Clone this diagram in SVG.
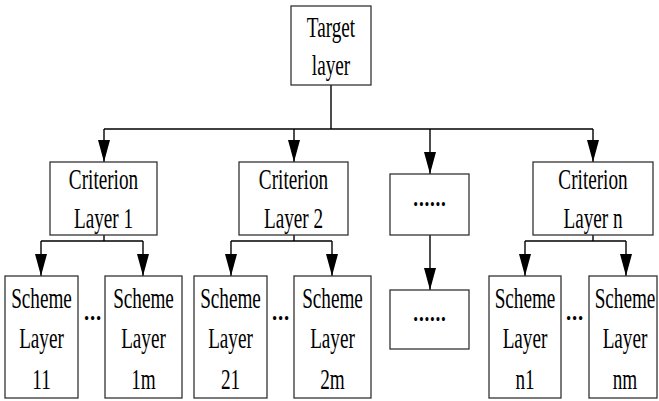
<svg xmlns="http://www.w3.org/2000/svg" width="659" height="401" viewBox="0 0 659 401">
<style>
.box{fill:#fff;stroke:#333;stroke-width:1.3}
.ln{fill:none;stroke:#000;stroke-width:1.4}
text{font-family:"Liberation Serif","Times New Roman",serif;font-size:30px;fill:#000;text-anchor:middle}
.dot{font-size:26px;font-weight:bold;letter-spacing:1px}
</style>
<defs>
<marker id="ah" markerUnits="userSpaceOnUse" markerWidth="22" markerHeight="12" refX="22" refY="6" orient="auto">
<path d="M0,0 L22,6 L0,12 z" fill="#000"/>
</marker>
</defs>
<g id="connectors">
<path class="ln" d="M331,85 V129" stroke-width="2"/>
<path class="ln" d="M104,129 H593"/>
<path class="ln" d="M104,129 V162" marker-end="url(#ah)"/>
<path class="ln" d="M294,129 V162" marker-end="url(#ah)"/>
<path class="ln" d="M430,129 V174" marker-end="url(#ah)"/>
<path class="ln" d="M593,129 V162" marker-end="url(#ah)"/>
<path class="ln" d="M104,235 V241 M41,241 H143"/>
<path class="ln" d="M41,241 V276" marker-end="url(#ah)"/>
<path class="ln" d="M143,241 V276" marker-end="url(#ah)"/>
<path class="ln" d="M294,235 V241 M231,241 H332"/>
<path class="ln" d="M231,241 V276" marker-end="url(#ah)"/>
<path class="ln" d="M332,241 V276" marker-end="url(#ah)"/>
<path class="ln" d="M593,235 V241 M525,241 H626"/>
<path class="ln" d="M525,241 V276" marker-end="url(#ah)"/>
<path class="ln" d="M626,241 V276" marker-end="url(#ah)"/>
<path class="ln" d="M430,235 V290" marker-end="url(#ah)"/>
</g>
<g id="target">
<rect class="box" x="291" y="6" width="80" height="79"/>
<text transform="translate(331,37) scale(0.64,1)">Target</text>
<text transform="translate(331,75) scale(0.64,1)">layer</text>
</g>
<g id="criterion1">
<rect class="box" x="50" y="162" width="107" height="73"/>
<text transform="translate(103.5,189) scale(0.64,1)">Criterion</text>
<text transform="translate(103.5,228) scale(0.64,1)">Layer 1</text>
</g>
<g id="criterion2">
<rect class="box" x="239" y="162" width="109" height="73"/>
<text transform="translate(293.5,189) scale(0.64,1)">Criterion</text>
<text transform="translate(293.5,228) scale(0.64,1)">Layer 2</text>
</g>
<g id="dots1">
<rect class="box" x="390" y="174" width="79" height="61"/>
<text class="dot" transform="translate(430,206) scale(0.74,1)">......</text>
</g>
<g id="criterionn">
<rect class="box" x="533" y="162" width="120" height="73"/>
<text transform="translate(593,189) scale(0.64,1)">Criterion</text>
<text transform="translate(593,228) scale(0.64,1)">Layer n</text>
</g>
<g id="dots2">
<rect class="box" x="390" y="290" width="79" height="59"/>
<text class="dot" transform="translate(430,321) scale(0.74,1)">......</text>
</g>
<g id="scheme11">
<rect class="box" x="5" y="276" width="73" height="122"/>
<text transform="translate(41.5,308) scale(0.64,1)">Scheme</text>
<text transform="translate(41.5,348) scale(0.64,1)">Layer</text>
<text transform="translate(41.5,389) scale(0.64,1)">11</text>
</g>
<g id="scheme1m">
<rect class="box" x="105" y="276" width="77" height="122"/>
<text transform="translate(143.5,308) scale(0.64,1)">Scheme</text>
<text transform="translate(143.5,348) scale(0.64,1)">Layer</text>
<text transform="translate(143.5,389) scale(0.64,1)">1m</text>
</g>
<g id="scheme21">
<rect class="box" x="194" y="276" width="73" height="122"/>
<text transform="translate(230.5,308) scale(0.64,1)">Scheme</text>
<text transform="translate(230.5,348) scale(0.64,1)">Layer</text>
<text transform="translate(230.5,389) scale(0.64,1)">21</text>
</g>
<g id="scheme2m">
<rect class="box" x="294" y="276" width="77" height="122"/>
<text transform="translate(332.5,308) scale(0.64,1)">Scheme</text>
<text transform="translate(332.5,348) scale(0.64,1)">Layer</text>
<text transform="translate(332.5,389) scale(0.64,1)">2m</text>
</g>
<g id="schemen1">
<rect class="box" x="489" y="276" width="72" height="122"/>
<text transform="translate(525,308) scale(0.64,1)">Scheme</text>
<text transform="translate(525,348) scale(0.64,1)">Layer</text>
<text transform="translate(525,389) scale(0.64,1)">n1</text>
</g>
<g id="schemenm">
<rect class="box" x="589" y="276" width="68" height="122"/>
<text transform="translate(625,308) scale(0.64,1)">Scheme</text>
<text transform="translate(625,348) scale(0.64,1)">Layer</text>
<text transform="translate(625,389) scale(0.64,1)">nm</text>
</g>
<g id="ellipses">
<text class="dot" transform="translate(93,320) scale(0.8,1)">...</text>
<text class="dot" transform="translate(281,320) scale(0.8,1)">...</text>
<text class="dot" transform="translate(575,320) scale(0.8,1)">...</text>
</g>
</svg>
